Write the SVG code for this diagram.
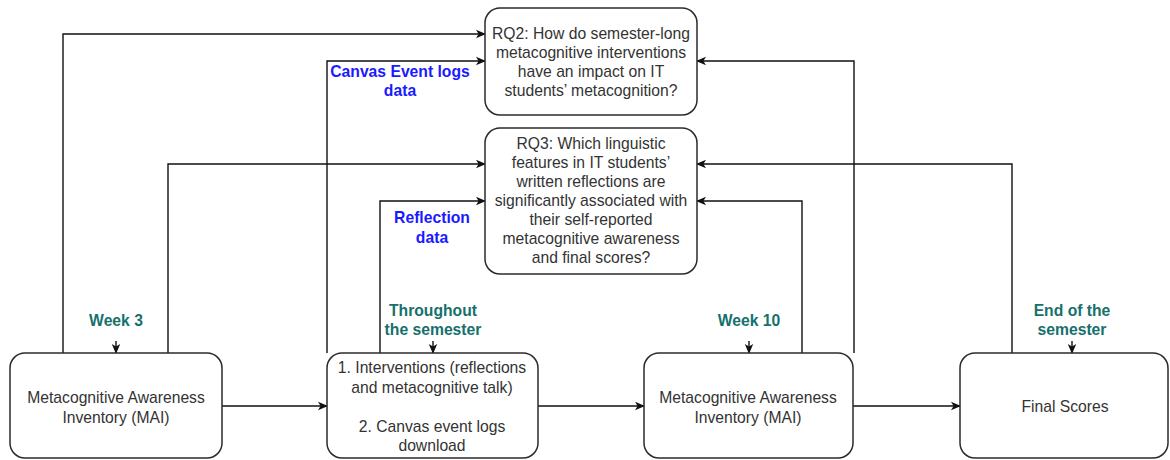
<svg xmlns="http://www.w3.org/2000/svg" width="1170" height="460" viewBox="0 0 1170 460">
  <style>
    .box { fill: #ffffff; stroke: #2b2b2b; stroke-width: 1.5; }
    .txt { font-family: "Liberation Sans", Arial, sans-serif; font-size: 15.7px; fill: #333333; text-anchor: middle; }
    .blue { font-family: "Liberation Sans", Arial, sans-serif; font-size: 15.7px; font-weight: bold; fill: #1a1aff; text-anchor: middle; }
    .teal { font-family: "Liberation Sans", Arial, sans-serif; font-size: 15.7px; font-weight: bold; fill: #16706c; text-anchor: middle; }
    .edge { fill: none; stroke: #111111; stroke-width: 1.4; marker-end: url(#arrow); }
  </style>
  <defs>
    <marker id="arrow" viewBox="0 0 10 10" refX="9" refY="5" markerWidth="10" markerHeight="10" markerUnits="userSpaceOnUse" orient="auto">
      <path d="M0,0.8 L10,5 L0,9.2 L2.6,5 Z" fill="#111111"/>
    </marker>
  </defs>
  <rect width="1170" height="460" fill="#ffffff"/>

  <!-- connectors -->
  <g id="connectors">
    <path class="edge" d="M63,353 V34 H485"/>
    <path class="edge" d="M168,353 V164 H485"/>
    <path class="edge" d="M327,353 V61 H485"/>
    <path class="edge" d="M380,353 V201 H485"/>
    <path class="edge" d="M802,353 V201 H697"/>
    <path class="edge" d="M854,353 V61 H697"/>
    <path class="edge" d="M1012,353 V164 H697"/>
    <path class="edge" d="M222,406 H327"/>
    <path class="edge" d="M538,406 H644"/>
    <path class="edge" d="M853,406 H960"/>
    <path class="edge" d="M116,341 V353"/>
    <path class="edge" d="M433,341 V353"/>
    <path class="edge" d="M749,341 V353"/>
    <path class="edge" d="M1072,341 V353"/>
  </g>

  <!-- connector labels -->
  <g id="labels">
    <text class="blue" x="400" y="77">Canvas Event logs</text>
    <text class="blue" x="400" y="96">data</text>
    <text class="blue" x="432" y="223">Reflection</text>
    <text class="blue" x="432" y="243">data</text>
    <text class="teal" x="116" y="326">Week 3</text>
    <text class="teal" x="433" y="316">Throughout</text>
    <text class="teal" x="433" y="335">the semester</text>
    <text class="teal" x="749" y="326">Week 10</text>
    <text class="teal" x="1072" y="316">End of the</text>
    <text class="teal" x="1072" y="335">semester</text>
  </g>

  <!-- research questions -->
  <g id="rq2">
    <rect class="box" x="485" y="8" width="212" height="107" rx="15"/>
    <text class="txt" x="591" y="39">RQ2: How do semester-long</text>
    <text class="txt" x="591" y="58">metacognitive interventions</text>
    <text class="txt" x="591" y="77">have an impact on IT</text>
    <text class="txt" x="591" y="96">students’ metacognition?</text>
  </g>
  <g id="rq3">
    <rect class="box" x="485" y="128" width="212" height="146" rx="15"/>
    <text class="txt" x="591" y="149">RQ3: Which linguistic</text>
    <text class="txt" x="591" y="168">features in IT students’</text>
    <text class="txt" x="591" y="187">written reflections are</text>
    <text class="txt" x="591" y="206">significantly associated with</text>
    <text class="txt" x="591" y="225">their self-reported</text>
    <text class="txt" x="591" y="244">metacognitive awareness</text>
    <text class="txt" x="591" y="263">and final scores?</text>
  </g>

  <!-- timeline steps -->
  <g id="mai-pre">
    <rect class="box" x="10" y="353" width="212" height="105" rx="15"/>
    <text class="txt" x="116" y="403">Metacognitive Awareness</text>
    <text class="txt" x="116" y="423">Inventory (MAI)</text>
  </g>
  <g id="interventions">
    <rect class="box" x="327" y="353" width="211" height="105" rx="15"/>
    <text class="txt" x="432" y="373">1. Interventions (reflections</text>
    <text class="txt" x="432" y="393">and metacognitive talk)</text>
    <text class="txt" x="432" y="432">2. Canvas event logs</text>
    <text class="txt" x="432" y="451">download</text>
  </g>
  <g id="mai-post">
    <rect class="box" x="644" y="353" width="209" height="105" rx="15"/>
    <text class="txt" x="748" y="403">Metacognitive Awareness</text>
    <text class="txt" x="748" y="423">Inventory (MAI)</text>
  </g>
  <g id="final-scores">
    <rect class="box" x="960" y="353" width="208" height="105" rx="15"/>
    <text class="txt" x="1065" y="412">Final Scores</text>
  </g>
</svg>
